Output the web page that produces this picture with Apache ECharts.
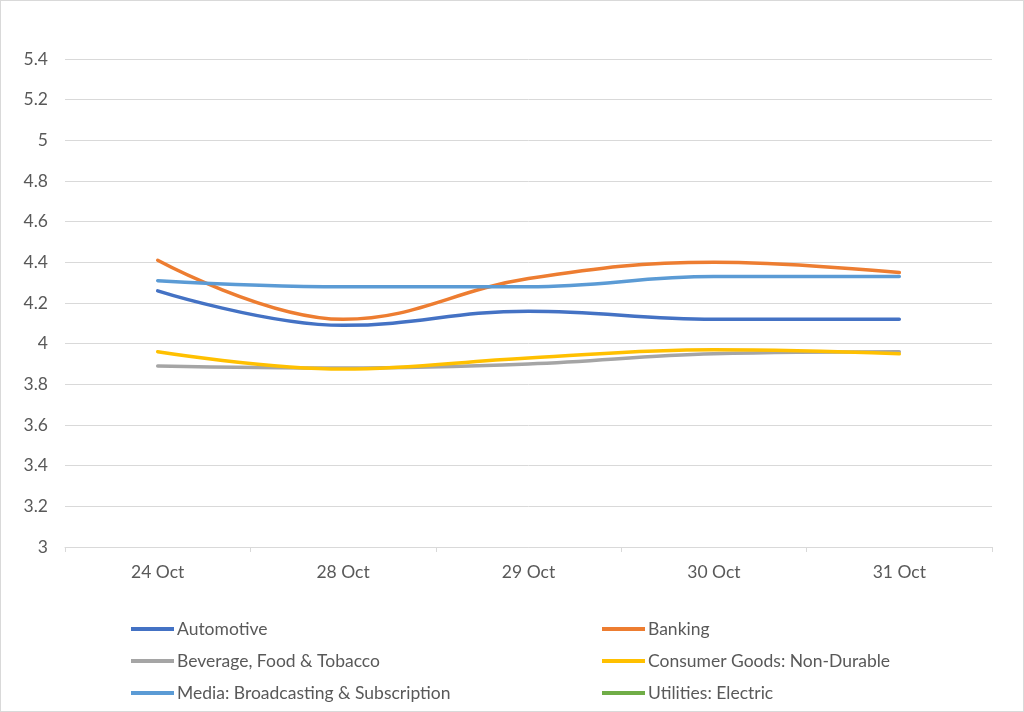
<!DOCTYPE html>
<html>
<head>
<meta charset="utf-8">
<script src="https://cdn.jsdelivr.net/npm/echarts@6/dist/echarts.min.js"></script>
<style>
html,body{margin:0;padding:0;background:#fff;}
#chart{width:1024px;height:712px;box-sizing:border-box;border:1px solid #d9d9d9;}
</style>
</head>
<body>
<div id="chart"></div>
<script>
const categories = ['24 Oct', '28 Oct', '29 Oct', '30 Oct', '31 Oct'];
const automotive = [4.26, 4.09, 4.16, 4.12, 4.12];
const banking = [4.41, 4.12, 4.32, 4.40, 4.35];
const beverage = [3.89, 3.88, 3.90, 3.95, 3.96];
const consumerGoods = [3.96, 3.875, 3.93, 3.97, 3.95];
const media = [4.31, 4.28, 4.28, 4.33, 4.33];
const utilities = [null, null, null, null, null];
const yTicks = { min: 3, max: 5.4, interval: 0.2 };

const names = ['Automotive', 'Banking', 'Beverage, Food & Tobacco', 'Consumer Goods: Non-Durable', 'Media: Broadcasting & Subscription', 'Utilities: Electric'];
const colors = ['#4472C4', '#ED7D31', '#A5A5A5', '#FFC000', '#5B9BD5', '#70AD47'];
const dataSets = [automotive, banking, beverage, consumerGoods, media, utilities];

const chart = echarts.init(document.getElementById('chart'));
const font = 'Lato, "Liberation Sans", sans-serif';
const fs = 17.5;
const legendPos = [
  [130, 617], [601, 617],
  [130, 649], [601, 649],
  [130, 681], [601, 681]
];
const legends = names.map((n, i) => ({
  left: legendPos[i][0],
  top: legendPos[i][1],
  data: [n],
  icon: 'rect',
  itemWidth: 43,
  itemHeight: 4,
  padding: 0,
  textStyle: { color: '#595959', fontSize: fs, fontFamily: font, lineHeight: 22, padding: [0, 0, 0, -2] }
}));
chart.setOption({
  animation: false,
  color: colors,
  grid: { left: 64, right: 31, top: 58, bottom: 164 },
  legend: legends,
  xAxis: {
    type: 'category',
    data: categories,
    boundaryGap: true,
    axisLine: { lineStyle: { color: '#d9d9d9', width: 1 } },
    axisTick: { show: true, length: 5, lineStyle: { color: '#d9d9d9' } },
    axisLabel: { color: '#595959', fontSize: fs, fontFamily: font, margin: 16 }
  },
  yAxis: {
    type: 'value',
    min: yTicks.min,
    max: yTicks.max,
    interval: yTicks.interval,
    axisLine: { show: false },
    axisTick: { show: false },
    splitLine: { lineStyle: { color: '#d9d9d9', width: 1 } },
    axisLabel: { color: '#595959', fontSize: fs, fontFamily: font, margin: 17,
      formatter: v => String(Math.round(v * 10) / 10) }
  },
  series: names.map((n, i) => ({
    name: n,
    type: 'line',
    data: dataSets[i],
    smooth: 0.4,
    showSymbol: false,
    symbol: 'none',
    lineStyle: { width: 3.5, color: colors[i], cap: 'round' },
    itemStyle: { color: colors[i] }
  }))
});
</script>
</body>
</html>
